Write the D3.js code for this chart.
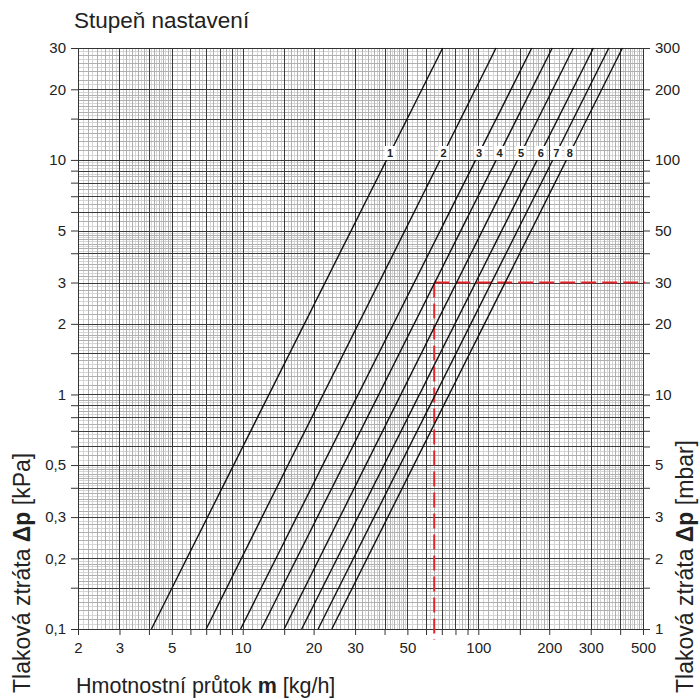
<!DOCTYPE html>
<html>
<head>
<meta charset="utf-8">
<script src="https://cdn.jsdelivr.net/npm/d3@7"></script>
<style>
  body { margin: 0; background: #fff; }
  text { font-family: "Liberation Sans", Arial, sans-serif; fill: #222; }
</style>
</head>
<body>
<div id="chart"></div>
<script>
// tick labels
const xTicks = [2, 3, 5, 10, 20, 30, 50, 100, 200, 300, 500];
const yTicksKPa = [0.1, 0.2, 0.3, 0.5, 1, 2, 3, 5, 10, 20, 30];
const yTicksMbar = [1, 2, 3, 5, 10, 20, 30, 50, 100, 200, 300];

// setting curves, flow (kg/h) read at 0.1 kPa and at 30 kPa
const settings = ["1", "2", "3", "4", "5", "6", "7", "8"];
const flowLow = [4.1, 7.0, 9.8, 12.0, 15.0, 17.8, 20.9, 23.9];
const flowHigh = [70.6, 118.9, 168.6, 206, 253, 308, 358, 409];
const labelDp = 10.7; // kPa, where the setting numbers sit

// red example reading
const exampleFlow = 65;
const exampleDp = 3;

const W = 700, H = 700;
const plotL = 78, plotR = 643, plotT = 48, plotB = 629;

const svg = d3.select("#chart").append("svg")
    .attr("width", W)
    .attr("height", H);

const x = d3.scaleLog().domain([2, 500]).range([plotL, plotR]);
const y = d3.scaleLog().domain([0.1, 30]).range([plotB, plotT]);
const yM = d3.scaleLog().domain([1, 300]).range([plotB, plotT]);

// grid values for each decade
function gridValues(lo, hi, steps) {
  let out = [];
  for (let k = -2; k <= 3; k++) {
    let b = Math.pow(10, k);
    for (const s of steps) {
      for (let m = s.from; m < s.to - 1e-9; m += s.step) {
        let v = +(m * b).toPrecision(6);
        if (v >= lo - 1e-9 && v <= hi + 1e-9) out.push(v);
      }
    }
  }
  return out;
}
const lightSteps = [{from: 1, to: 2, step: 0.05}, {from: 2, to: 5, step: 0.1}, {from: 5, to: 10, step: 0.25}];
const midSteps = [{from: 1, to: 2, step: 0.1}, {from: 2, to: 5, step: 0.2}, {from: 5, to: 10, step: 0.5}];
const majorMult = [1, 1.5, 2, 3, 4, 5, 6, 7, 8, 9];
function majorValues(lo, hi) {
  let out = [];
  for (let k = -2; k <= 3; k++) {
    for (const m of majorMult) {
      let v = +(m * Math.pow(10, k)).toPrecision(6);
      if (v >= lo - 1e-9 && v <= hi + 1e-9) out.push(v);
    }
  }
  return out;
}

const crisp = v => Math.round(v) + 0.5;
const grid = svg.append("g");

function drawGrid(xv, yv, color, width) {
  grid.append("g").selectAll("line").data(xv).enter().append("line")
    .attr("x1", d => crisp(x(d))).attr("x2", d => crisp(x(d)))
    .attr("y1", plotT).attr("y2", plotB)
    .attr("stroke", color).attr("stroke-width", width);
  grid.append("g").selectAll("line").data(yv).enter().append("line")
    .attr("y1", d => crisp(y(d))).attr("y2", d => crisp(y(d)))
    .attr("x1", plotL).attr("x2", plotR)
    .attr("stroke", color).attr("stroke-width", width);
}
drawGrid(gridValues(2, 500, lightSteps), gridValues(0.1, 30, lightSteps), "#d6d6d6", 1);
drawGrid(gridValues(2, 500, midSteps), gridValues(0.1, 30, midSteps), "#b0b0b0", 1);
drawGrid(majorValues(2, 500), majorValues(0.1, 30), "#3a3a3a", 1);

// axes
const fmt = d => String(d).replace(".", ",");
const xMajor = majorValues(2, 500);
const yMajor = majorValues(0.1, 30);
const yMajorM = majorValues(1, 300);

function styleAxis(g) {
  g.selectAll("path").attr("stroke", "#333");
  g.selectAll("line").attr("stroke", "#333");
  g.selectAll("text").style("font-size", "15px").attr("fill", "#222");
}

svg.append("g")
  .attr("transform", "translate(0," + plotB + ")")
  .call(d3.axisBottom(x).tickValues(xMajor).tickSize(6).tickSizeOuter(0).tickPadding(7)
    .tickFormat(d => xTicks.includes(d) ? fmt(d) : ""))
  .call(styleAxis);

svg.append("g")
  .attr("transform", "translate(" + plotL + ",0)")
  .call(d3.axisLeft(y).tickValues(yMajor).tickSize(7).tickSizeOuter(0).tickPadding(5)
    .tickFormat(d => yTicksKPa.includes(d) ? fmt(d) : ""))
  .call(styleAxis);

svg.append("g")
  .attr("transform", "translate(" + plotR + ",0)")
  .call(d3.axisRight(yM).tickValues(yMajorM).tickSize(7).tickSizeOuter(0).tickPadding(5)
    .tickFormat(d => yTicksMbar.includes(d) ? fmt(d) : ""))
  .call(styleAxis);

// top border
svg.append("line")
  .attr("x1", plotL).attr("x2", plotR)
  .attr("y1", plotT + 0.5).attr("y2", plotT + 0.5)
  .attr("stroke", "#333");

// red example
const red = svg.append("g")
  .attr("stroke", "#e3242b")
  .attr("stroke-width", 2)
  .attr("stroke-dasharray", "15,6")
  .attr("fill", "none");
red.append("line")
  .attr("x1", x(exampleFlow)).attr("x2", x(exampleFlow))
  .attr("y1", y(exampleDp)).attr("y2", plotB + 11);
red.append("line")
  .attr("x1", x(exampleFlow)).attr("x2", plotR + 2)
  .attr("y1", y(exampleDp)).attr("y2", y(exampleDp));

// setting curves
const curves = settings.map((s, i) => ({
  name: s,
  pts: [[flowLow[i], 0.1], [flowHigh[i], 30]]
}));

svg.append("g").selectAll("path").data(curves).enter().append("path")
  .attr("d", d => d3.line().x(p => x(p[0])).y(p => y(p[1]))(d.pts))
  .attr("stroke", "#111")
  .attr("stroke-width", 1.4)
  .attr("fill", "none");

// setting numbers
const lab = svg.append("g").selectAll("g").data(curves).enter().append("g")
  .attr("transform", d => {
    let t = Math.log(labelDp / 0.1) / Math.log(30 / 0.1);
    let m = Math.exp(Math.log(d.pts[0][0]) + t * (Math.log(d.pts[1][0]) - Math.log(d.pts[0][0])));
    return "translate(" + x(m) + "," + y(labelDp) + ")";
  });
lab.append("rect")
  .attr("x", -5.5).attr("y", -7).attr("width", 11).attr("height", 14)
  .attr("fill", "#fff");
lab.append("text")
  .attr("text-anchor", "middle")
  .attr("dy", "0.36em")
  .style("font-size", "11px")
  .style("font-weight", "bold")
  .text(d => d.name);

// titles
svg.append("text")
  .attr("x", 74).attr("y", 28)
  .style("font-size", "22.5px")
  .attr("fill", "#333")
  .text("Stupeň nastavení");

const xl = svg.append("text")
  .attr("x", 76).attr("y", 693)
  .style("font-size", "21.5px")
  .attr("fill", "#333");
xl.append("tspan").text("Hmotnostní průtok ");
xl.append("tspan").style("font-weight", "bold").text("m");
xl.append("tspan").text(" [kg/h]");

function yLabel(xPos, unit) {
  const t = svg.append("text")
    .attr("transform", "translate(" + xPos + ",693) rotate(-90)")
    .style("font-size", "23px")
    .attr("fill", "#333");
  t.append("tspan").text("Tlaková ztráta ");
  t.append("tspan").style("font-weight", "bold").text("Δp");
  t.append("tspan").text(" [" + unit + "]");
}
yLabel(30, "kPa");
yLabel(693, "mbar");
</script>
</body>
</html>
